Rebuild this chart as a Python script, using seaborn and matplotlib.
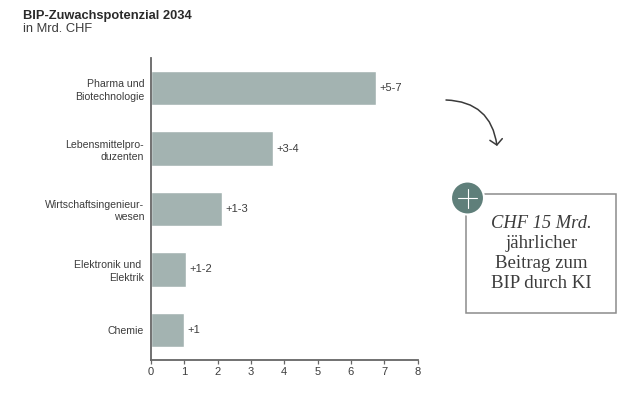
import pandas as pd
import matplotlib
matplotlib.use("Agg")
import matplotlib.pyplot as plt
from matplotlib.patches import Circle, FancyArrowPatch, Rectangle
from matplotlib.lines import Line2D
import seaborn as sns

categories = ["Pharma und\nBiotechnologie", "Lebensmittelpro-\nduzenten",
              "Wirtschaftsingenieur-\nwesen", "Elektronik und \nElektrik", "Chemie"]
values = [6.75, 3.67, 2.12, 1.05, 0.98]
value_labels = ["+5-7", "+3-4", "+1-3", "+1-2", "+1"]
x_ticks = [0, 1, 2, 3, 4, 5, 6, 7, 8]

W, H = 640, 396
BAR = "#a3b3b1"
AXIS = "#666666"
TEXT = "#3c3c3c"
GREEN = "#5f7f7a"

sns.set_theme(style="white")
plt.rcParams["font.family"] = ["Liberation Sans", "DejaVu Sans"]


def fx(x):
    return x / W


def fy(y):
    return 1 - y / H


data = pd.DataFrame({"branche": categories, "wert": values})

fig = plt.figure(figsize=(W / 100, H / 100), dpi=100)
ax = fig.add_axes([fx(151), fy(360), fx(417.5 - 151), (360 - 58) / H])

sns.barplot(data=data, x="wert", y="branche", color=BAR, saturation=1, width=0.57, ax=ax)
for bars in ax.containers:
    ax.bar_label(bars, labels=value_labels, padding=2.5, fontsize=8, color=TEXT)

ax.set_xlim(0, 8)
ax.set_ylim(4.5, -0.5)
ax.set_xticks(x_ticks)
ax.set_xlabel("")
ax.set_ylabel("")
ax.tick_params(axis="x", length=3, width=0.9, color=AXIS, labelcolor=TEXT, labelsize=8, pad=2, bottom=True)
ax.tick_params(axis="y", length=0, labelcolor=TEXT, labelsize=7.6, pad=5)
for label in ax.get_yticklabels():
    label.set_linespacing(1.3)
sns.despine(ax=ax)
ax.spines["left"].set_color(AXIS)
ax.spines["left"].set_linewidth(1.3)
ax.spines["bottom"].set_color(AXIS)
ax.spines["bottom"].set_linewidth(1.3)

fig.text(fx(23), fy(15.5), "BIP-Zuwachspotenzial 2034", fontsize=9.3, fontweight="bold",
         color="#2a2a2a", va="center")
fig.text(fx(23), fy(29), "in Mrd. CHF", fontsize=9.3, color=TEXT, va="center")

# arrow to the call-out
fig.add_artist(FancyArrowPatch((fx(446), fy(100)), (fx(497), fy(146)),
                               transform=fig.transFigure, connectionstyle="arc3,rad=-0.42",
                               arrowstyle="->,head_length=4,head_width=4.5", color="#3a3a3a",
                               lw=1.1, shrinkA=0, shrinkB=0))

# call-out box
fig.add_artist(Rectangle((fx(466), fy(313)), fx(150), 119 / H, transform=fig.transFigure,
                         fill=False, edgecolor="#8c8c8c", lw=1.1))
circle = Circle((467.5, H - 198), 16.5, transform=None, facecolor=GREEN, edgecolor="white", lw=1.5)
fig.add_artist(circle)
fig.add_artist(Line2D([fx(458), fx(477)], [fy(198), fy(198)], color="white", lw=0.8))
fig.add_artist(Line2D([fx(467.5), fx(467.5)], [fy(188.5), fy(207.5)], color="white", lw=0.8))

box_font = ["Liberation Serif", "DejaVu Serif"]
fig.text(fx(541.5), fy(223), "CHF 15 Mrd.", fontsize=13.3, style="italic", family=box_font,
         color=TEXT, ha="center", va="center")
for y, line in zip([243, 264, 284], ["jährlicher", "Beitrag zum", "BIP durch KI"]):
    fig.text(fx(541.5), fy(y), line, fontsize=13.6, family=box_font, color=TEXT, ha="center", va="center")

fig.savefig("out.png", dpi=100)
